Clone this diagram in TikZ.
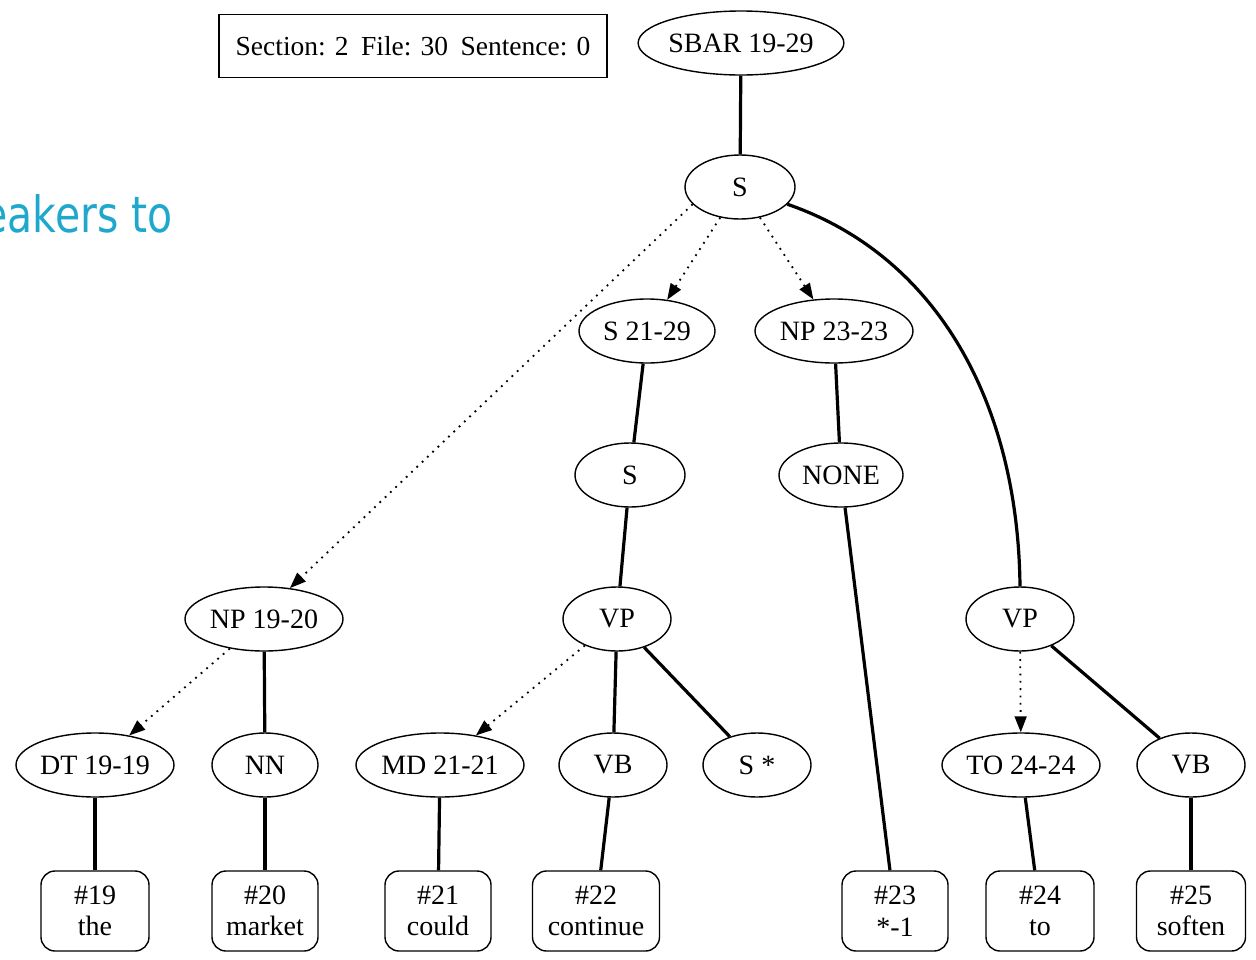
\documentclass[tikz,border=0pt]{standalone}
\usepackage{fontspec}
\setmainfont{Liberation Serif}
\newfontfamily\bluefont[FakeStretch=0.82]{DejaVu Sans}
\usetikzlibrary{shapes.geometric,arrows.meta}
\definecolor{slideblue}{RGB}{32,168,204}
\begin{document}
\begin{tikzpicture}[x=1pt,y=-1pt,
  every node/.style={font=\fontsize{28}{31.5}\selectfont},
  tnode/.style={ellipse,draw,line width=1.4pt,inner sep=0pt,minimum height=64pt},
  leaf/.style={rectangle,rounded corners=14pt,draw,line width=1.4pt,minimum height=80pt,align=center,inner sep=0pt},
  tree/.style={line width=3.2pt},
  trace/.style={line width=1.8pt,dash pattern=on 1.8pt off 5.5pt,-{Triangle[length=16pt,width=12pt]}},
]
\useasboundingbox (0,0) rectangle (1256,959);

\node[anchor=base east,font=\bluefont\fontsize{50}{52}\selectfont,text=slideblue,inner sep=0pt] (title) at (173,232) {eakers to};

\node[draw,line width=1.8pt,minimum width=388pt,minimum height=63pt,inner sep=0pt,font=\fontsize{27.5}{31}\selectfont] (info) at (413,46) {Section: 2\hspace{.45em}File: 30\hspace{.45em}Sentence: 0};

\node[tnode,minimum width=194pt] (sbar) at (741,43) {SBAR 19-29};
\node[tnode,minimum width=110pt] (s1) at (740,187) {S};
\node[tnode,minimum width=136pt] (s2129) at (647,331) {S 21-29};
\node[tnode,minimum width=158pt] (np2323) at (834,331) {NP 23-23};
\node[tnode,minimum width=110pt] (s2) at (630,475) {S};
\node[tnode,minimum width=124pt] (none) at (841,475) {NONE};
\node[tnode,minimum width=158pt] (np1920) at (264,619) {NP 19-20};
\node[tnode,minimum width=108pt] (vp1) at (617,619) {VP};
\node[tnode,minimum width=108pt] (vp2) at (1020,619) {VP};
\node[tnode,minimum width=158pt] (dt) at (95,765) {DT 19-19};
\node[tnode,minimum width=106pt] (nn) at (265,765) {NN};
\node[tnode,minimum width=168pt] (md) at (440,765) {MD 21-21};
\node[tnode,minimum width=108pt] (vb1) at (613,765) {VB};
\node[tnode,minimum width=108pt] (sstar) at (757,765) {S *};
\node[tnode,minimum width=158pt] (to) at (1021,765) {TO 24-24};
\node[tnode,minimum width=108pt] (vb2) at (1191,765) {VB};

\node[leaf,minimum width=108pt] (w19) at (95,911) {\#19\\the};
\node[leaf,minimum width=106pt] (w20) at (265,911) {\#20\\market};
\node[leaf,minimum width=106pt] (w21) at (438,911) {\#21\\could};
\node[leaf,minimum width=127pt] (w22) at (596,911) {\#22\\continue};
\node[leaf,minimum width=106pt] (w23) at (895,911) {\#23\\*-1};
\node[leaf,minimum width=108pt] (w24) at (1040,911) {\#24\\to};
\node[leaf,minimum width=109pt] (w25) at (1191,911) {\#25\\soften};

\draw[tree] (sbar) -- (s1);
\draw[trace] (s1.200) -- (np1920.50);
\draw[trace] (s1) -- (s2129);
\draw[trace] (s1) -- (np2323);
\draw[tree] (s1.340) .. controls (935,255) and (1018,400) .. (vp2.north);
\draw[tree] (s2129) -- (s2);
\draw[tree] (np2323) -- (none);
\draw[tree] (s2) -- (vp1);
\draw[tree] (none) -- (w23);
\draw[trace] (np1920) -- (dt);
\draw[tree] (np1920) -- (nn);
\draw[trace] (vp1) -- (md);
\draw[tree] (vp1) -- (vb1);
\draw[tree] (vp1) -- (sstar);
\draw[trace] (vp2) -- (to);
\draw[tree] (vp2) -- (vb2);
\draw[tree] (dt) -- (w19);
\draw[tree] (nn) -- (w20);
\draw[tree] (md) -- (w21);
\draw[tree] (vb1) -- (w22);
\draw[tree] (to) -- (w24);
\draw[tree] (vb2) -- (w25);
\end{tikzpicture}
\end{document}
